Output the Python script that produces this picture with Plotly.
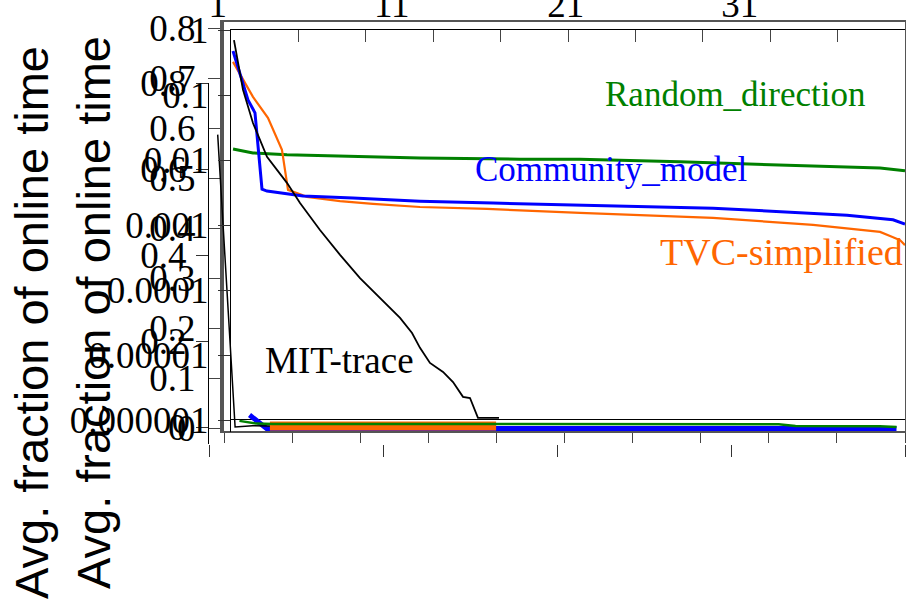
import plotly.graph_objects as go

W, H = 906, 606

def px_x(p):
    return p / W

def px_y(p):
    return (H - p) / H

# ---------------- data: main (visible) chart ----------------
mit_x = [0.22, 0.89, 1.63, 2.67, 4.15, 5.12, 6.60, 8.09, 9.57, 11.05, 12.54, 13.43,
         14.02, 14.76, 15.73, 16.47, 17.21, 17.73, 18.32, 19.88]
mit_y = [0.974, 0.846, 0.761, 0.674, 0.607, 0.555, 0.486, 0.422, 0.362, 0.311, 0.260, 0.221,
         0.183, 0.144, 0.121, 0.095, 0.057, 0.054, 0.003, 0.003]

community_x = [0.15, 1.26, 1.78, 2.30, 2.67, 5.34, 9.05, 14.02, 19.44, 25.89, 35.76, 45.70, 49.11, 50.0]
community_y = [0.946, 0.820, 0.787, 0.591, 0.586, 0.573, 0.568, 0.560, 0.555, 0.550, 0.542, 0.524, 0.512, 0.501]

tvc_x = [0.15, 0.89, 1.63, 2.74, 3.78, 4.23, 5.64, 8.09, 10.53, 14.02, 18.99, 25.89, 35.76, 43.18,
         48.15, 49.63, 50.0]
tvc_y = [0.918, 0.871, 0.828, 0.774, 0.692, 0.589, 0.571, 0.560, 0.553, 0.545, 0.540, 0.530, 0.517,
         0.499, 0.481, 0.460, 0.447]

random_x = [0.15, 1.63, 4.15, 7.34, 14.02, 21.44, 25.89, 33.31, 40.73, 48.15, 50.0]
random_y = [0.694, 0.684, 0.679, 0.676, 0.671, 0.668, 0.668, 0.661, 0.653, 0.645, 0.638]

# ---------------- data: collapsed second chart (categories 1..40) ----------------
categories = list(range(1, 41))
hidden_mit = [0.68, 0.0, 0.003, 0.002, 0.002, 0.002, 0.002, 0.002, 0.002, 0.002,
              0.002, 0.002, 0.002, 0.002, 0.002, 0.002, 0.002, None, None, None,
              None, None, None, None, None, None, None, None, None, None,
              None, None, None, None, None, None, None, None, None, None]
hidden_community = [None, 0.026, -0.001, -0.001, -0.001, -0.001, -0.001, -0.001, -0.001, -0.001,
                    -0.001, -0.001, -0.001, -0.001, -0.001, -0.001, -0.001, -0.001, -0.001, -0.001,
                    -0.001, -0.001, -0.001, -0.001, -0.001, -0.001, -0.001, -0.001, -0.001, -0.001,
                    -0.001, -0.001, -0.001, -0.001, -0.001, -0.001, -0.001, -0.001, -0.001, -0.001]
hidden_tvc = [None, None, None, 0.0023, 0.0023, 0.0023, 0.0023, 0.0023, 0.0023, 0.0023,
              0.0023, 0.0023, 0.0023, 0.0023, 0.0023, 0.0023, 0.0023, None, None, None,
              None, None, None, None, None, None, None, None, None, None,
              None, None, None, None, None, None, None, None, None, None]
hidden_random = [9.7e-7, 8.8e-7, 8.7e-7, 8.7e-7, 8.7e-7, 8.7e-7, 8.7e-7, 8.7e-7, 8.7e-7, 8.7e-7,
                 8.7e-7, 8.7e-7, 8.7e-7, 8.7e-7, 8.7e-7, 8.7e-7, 8.7e-7, 8.7e-7, 8.7e-7, 8.7e-7,
                 8.6e-7, 8.6e-7, 8.6e-7, 8.6e-7, 8.6e-7, 8.6e-7, 8.6e-7, 8.6e-7, 8.6e-7, 8.6e-7,
                 8.6e-7, 8.6e-7, 8.6e-7, 8.1e-7, 8.1e-7, 8.1e-7, 8.1e-7, 8.1e-7, 8.0e-7, 7.8e-7]

# ---------------- tick labels ----------------
log_tickvals = [1e-6, 1e-5, 1e-4, 1e-3, 1e-2, 1e-1, 1]
log_ticktext = ["0.000001", "0.00001", "0.0001", "0.001", "0.01", "0.1", "1"]
top_tickvals = [1, 11, 21, 31]
top_ticktext = ["1", "11", "21", "31"]
series_labels = ["Random_direction", "Community_model", "TVC-simplified", "MIT-trace"]
y_title = "Avg. fraction of online time"

GREEN = "#008000"
BLUE = "#0000FF"
ORANGE = "#FF6600"
BLACK = "#000000"
SERIF = "Liberation Serif"
TICKFONT = dict(family=SERIF, size=37, color="black")

fig = go.Figure()

# main chart lines (x, y)
fig.add_trace(go.Scatter(x=random_x, y=random_y, mode="lines", line=dict(color=GREEN, width=3),
                         xaxis="x", yaxis="y", showlegend=False))
fig.add_trace(go.Scatter(x=tvc_x, y=tvc_y, mode="lines", line=dict(color=ORANGE, width=2.2),
                         xaxis="x", yaxis="y", showlegend=False))
fig.add_trace(go.Scatter(x=community_x, y=community_y, mode="lines", line=dict(color=BLUE, width=3),
                         xaxis="x", yaxis="y", showlegend=False))
fig.add_trace(go.Scatter(x=mit_x, y=mit_y, mode="lines", line=dict(color=BLACK, width=1.8),
                         xaxis="x", yaxis="y", showlegend=False))

# collapsed chart series
fig.add_trace(go.Scatter(x=categories, y=hidden_random, mode="lines", line=dict(color=GREEN, width=2.5),
                         xaxis="x5", yaxis="y5", showlegend=False))
fig.add_trace(go.Scatter(x=categories, y=hidden_community, mode="lines", line=dict(color=BLUE, width=5),
                         xaxis="x2", yaxis="y2", showlegend=False))
fig.add_trace(go.Scatter(x=categories, y=hidden_tvc, mode="lines", line=dict(color=ORANGE, width=9),
                         xaxis="x4", yaxis="y3", showlegend=False))
fig.add_trace(go.Scatter(x=categories, y=hidden_mit, mode="lines", line=dict(color=BLACK, width=1.5),
                         xaxis="x3", yaxis="y3", showlegend=False))

NOGRID = dict(showgrid=False, zeroline=False, automargin=False)

layout = dict(
    template="none",
    width=W, height=H, autosize=False,
    margin=dict(l=0, r=0, t=0, b=0, pad=0),
    paper_bgcolor="white", plot_bgcolor="rgba(0,0,0,0)",
    showlegend=False,
    # main frame (linear data)
    xaxis=dict(domain=[px_x(231), px_x(905)], anchor="y", range=[0, 50], side="top",
               ticks="inside", ticklen=12, tickcolor="#444", dtick=5, tick0=0,
               showticklabels=False, showline=True, linecolor="black", linewidth=1, mirror=True, **NOGRID),
    yaxis=dict(domain=[px_y(419), px_y(30)], anchor="x", range=[0, 1], ticks="", showticklabels=False,
               showline=True, linecolor="black", linewidth=1, mirror=True, **NOGRID),
    # log frame (same left edge as main)
    xaxis5=dict(domain=[px_x(231), px_x(905)], anchor="y5", range=[0.5, 40.5], visible=False, **NOGRID),
    yaxis5=dict(domain=[px_y(432), px_y(30)], anchor="x5", type="log", range=[-6.1846, 0],
                tickvals=log_tickvals, ticktext=log_ticktext, ticks="outside", ticklen=12,
                tickcolor="#333", tickfont=TICKFONT, ticklabelstandoff=2,
                showline=True, linecolor="black", linewidth=1, **NOGRID),
    # outer linear frame (0..0.8)
    xaxis2=dict(domain=[px_x(224), px_x(905)], anchor="y2", range=[0.5, 40.5], dtick=4, tick0=0.5,
                ticks="outside", ticklen=10, tickcolor="#444", showticklabels=False,
                showline=True, linecolor="#555", linewidth=1.5, mirror=True, **NOGRID),
    yaxis2=dict(domain=[px_y(431), px_y(22)], anchor="x2", range=[-0.006, 0.812], dtick=0.1, tick0=0,
                ticks="outside", ticklen=12, tickcolor="#444", tickfont=TICKFONT, ticklabelstandoff=5,
                showline=True, linecolor="#555", linewidth=4, mirror=True, **NOGRID),
    # collapsed chart frame
    xaxis3=dict(domain=[px_x(209), px_x(905)], anchor="y3", range=[0.5, 40.5],
                tickvals=[0.5, 10.5, 20.5, 30.5, 40.5], ticks="outside", ticklen=12, tickcolor="#333",
                showticklabels=False, showline=False, **NOGRID),
    xaxis4=dict(overlaying="x3", anchor="free", position=px_y(24), side="top", range=[0.5, 40.5],
                tickvals=top_tickvals, ticktext=top_ticktext, ticks="", tickfont=TICKFONT,
                showline=False, **NOGRID),
    yaxis3=dict(domain=[px_y(444), px_y(83)], anchor="x3", range=[-0.03953, 0.8], dtick=0.2, tick0=0,
                ticks="outside", ticklen=12, tickcolor="#333", tickfont=TICKFONT, ticklabelstandoff=2,
                showline=True, linecolor="black", linewidth=1, mirror=False, **NOGRID),
)
fig.update_layout(**layout)

# series labels
label_pos = [(735, 94, GREEN, 35), (611, 170, BLUE, 35), (781, 252, ORANGE, 38), (339, 361, BLACK, 37)]
for text, (lx, ly, col, fs) in zip(series_labels, label_pos):
    fig.add_annotation(x=px_x(lx), y=px_y(ly), xref="paper", yref="paper", text=text,
                       showarrow=False, xanchor="center", yanchor="middle",
                       font=dict(family=SERIF, size=fs, color=col))

# duplicated axis titles
for tx, ty in [(31, 323), (93, 313)]:
    fig.add_annotation(x=px_x(tx), y=px_y(ty), xref="paper", yref="paper", text=y_title,
                       textangle=-90, showarrow=False, xanchor="center", yanchor="middle",
                       font=dict(family="Liberation Sans", size=47, color="black"))

fig.write_html("out.html", config={"displayModeBar": False},
               post_script="document.body.style.margin='0px';")
